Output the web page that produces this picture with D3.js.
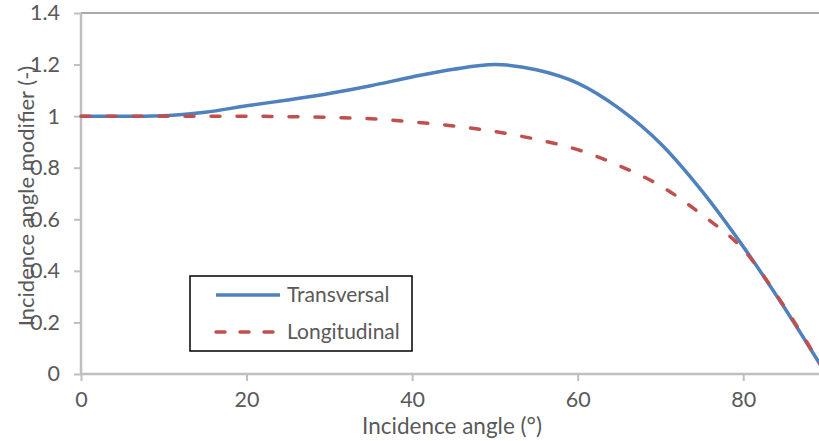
<!DOCTYPE html>
<html>
<head>
<meta charset="utf-8">
<script src="https://cdn.jsdelivr.net/npm/d3@7"></script>
<style>
  body { margin: 0; background: #fff; }
  text { font-family: Lato, "Open Sans", sans-serif; fill: #595959; }
</style>
</head>
<body>
<div id="chart"></div>
<script>
// incidence angle in degrees
const angles = [0, 5, 10, 15, 20, 25, 30, 35, 40, 45, 50, 55, 60, 65, 70, 75, 80, 85, 90];
const transversal = [1.0, 1.0, 1.002, 1.015, 1.04, 1.063, 1.088, 1.118, 1.152, 1.182, 1.2, 1.18, 1.128, 1.03, 0.894, 0.71, 0.494, 0.256, 0.0];
const longitudinal = [1.0, 1.0, 1.0, 1.0, 1.0, 0.998, 0.995, 0.99, 0.978, 0.962, 0.94, 0.91, 0.87, 0.808, 0.73, 0.618, 0.483, 0.26, 0.0];
const xTicks = [0, 20, 40, 60, 80];
const yTicks = [0, 0.2, 0.4, 0.6, 0.8, 1, 1.2, 1.4];

const series = [
  { name: "Transversal", values: transversal, color: "#4f81bd", dash: null },
  { name: "Longitudinal", values: longitudinal, color: "#c0504d", dash: "9,17" }
];

const W = 819, H = 441;
const mLeft = 81, mTop = 13, mBottom = 374;

const x = d3.scaleLinear().domain([0, 90]).range([mLeft, 826]);
const y = d3.scaleLinear().domain([0, 1.4]).range([mBottom, mTop]);

const svg = d3.select("#chart").append("svg")
    .attr("width", W)
    .attr("height", H);

// top border of plot area
svg.append("line")
    .attr("x1", mLeft).attr("x2", W)
    .attr("y1", mTop).attr("y2", mTop)
    .attr("stroke", "#8c8c8c")
    .attr("stroke-width", 1.5);

// y axis
const yAxis = svg.append("g")
    .attr("transform", `translate(${mLeft},0)`)
    .call(d3.axisLeft(y).tickValues(yTicks).tickSize(7).tickPadding(14)
      .tickFormat(d => d3.format("")(+d.toFixed(1))));
yAxis.select(".domain").remove();
yAxis.selectAll(".tick line").attr("stroke", "#bfbfbf").attr("stroke-width", 2);
yAxis.selectAll("text").style("font-size", "21.5px").attr("fill", "#595959");
svg.append("line")
    .attr("x1", mLeft).attr("x2", mLeft)
    .attr("y1", mTop).attr("y2", mBottom + 1)
    .attr("stroke", "#bfbfbf").attr("stroke-width", 2.5);

// x axis
const xAxis = svg.append("g")
    .attr("transform", `translate(0,${mBottom})`)
    .call(d3.axisBottom(x).tickValues(xTicks).tickSize(7).tickPadding(11));
xAxis.select(".domain").remove();
xAxis.selectAll(".tick line").attr("stroke", "#bfbfbf").attr("stroke-width", 2);
xAxis.selectAll("text").style("font-size", "21.5px").attr("fill", "#595959");
svg.append("line")
    .attr("x1", mLeft - 1).attr("x2", W)
    .attr("y1", mBottom).attr("y2", mBottom)
    .attr("stroke", "#bfbfbf").attr("stroke-width", 2.5);

// axis titles
svg.append("text")
    .attr("x", 452).attr("y", 434)
    .attr("text-anchor", "middle")
    .style("font-size", "22.5px")
    .text("Incidence angle (°)");

svg.append("text")
    .attr("transform", `translate(34,196) rotate(-90)`)
    .attr("text-anchor", "middle")
    .style("font-size", "22px")
    .text("Incidence angle modifier (-)");

// lines
const line = d3.line()
    .x((d, i) => x(angles[i]))
    .y(d => y(d))
    .curve(d3.curveMonotoneX);

svg.selectAll("path.series")
  .data(series)
  .enter().append("path")
    .attr("class", "series")
    .attr("fill", "none")
    .attr("stroke", d => d.color)
    .attr("stroke-width", 3.5)
    .attr("stroke-linecap", d => d.dash ? "round" : "butt")
    .attr("stroke-dasharray", d => d.dash)
    .attr("d", d => line(d.values));

// legend
const lg = svg.append("g");
lg.append("rect")
    .attr("x", 190).attr("y", 276)
    .attr("width", 222).attr("height", 75)
    .attr("fill", "#fff")
    .attr("stroke", "#000")
    .attr("stroke-width", 1.5);
series.forEach((s, i) => {
  const ly = 295 + i * 37;
  lg.append("line")
      .attr("x1", 216).attr("x2", 280)
      .attr("y1", ly).attr("y2", ly)
      .attr("stroke", s.color)
      .attr("stroke-width", 3.5)
      .attr("stroke-linecap", s.dash ? "round" : "butt")
      .attr("stroke-dasharray", s.dash ? "9,15" : null);
  lg.append("text")
      .attr("x", 287).attr("y", ly)
      .attr("dy", "0.35em")
      .style("font-size", "21px")
      .text(s.name);
});
</script>
</body>
</html>
